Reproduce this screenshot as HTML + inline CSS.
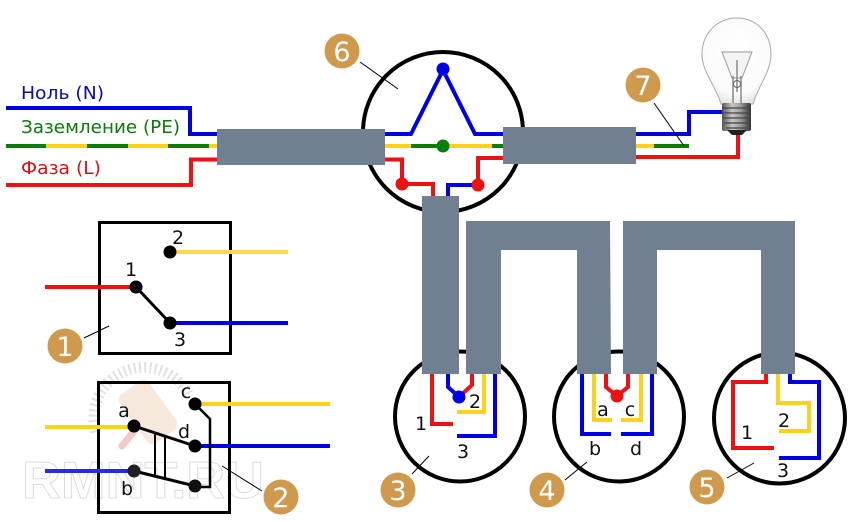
<!DOCTYPE html>
<html><head><meta charset="utf-8"><style>
html,body{margin:0;padding:0;background:#fff;width:850px;height:522px;overflow:hidden}
svg{display:block}
.w{fill:none;stroke-width:4;stroke-linejoin:miter}
.k{font-family:"DejaVu Sans",sans-serif;font-size:19px;fill:#111;text-anchor:middle}
.n{font-family:"DejaVu Sans",sans-serif;font-size:27px;fill:#fff;text-anchor:middle}
.l{font-family:"DejaVu Sans",sans-serif;font-size:17.5px}
</style></head><body>
<svg width="850" height="522" viewBox="0 0 850 522" xmlns="http://www.w3.org/2000/svg">
<defs>
<linearGradient id="b" x1="0" x2="1" y1="0" y2="0"><stop offset="0" stop-color="#555"/><stop offset=".35" stop-color="#c8c8c8"/><stop offset=".65" stop-color="#999"/><stop offset="1" stop-color="#333"/></linearGradient>
<radialGradient id="g" cx=".5" cy=".4" r=".6"><stop offset="0" stop-color="#fff"/><stop offset=".8" stop-color="#fbfbfb"/><stop offset="1" stop-color="#e6e6e6"/></radialGradient>
</defs>

<!-- watermark -->
<path d="M96 432 A50 50 0 0 1 188 394" fill="none" stroke="#e4e0dc" stroke-width="11" stroke-dasharray="2 3.2"/>
<rect x="130" y="382" width="36" height="60" rx="7" fill="#f7e8dc" transform="rotate(-36 148 412)"/>
<path d="M135 430 L122 446" stroke="#f3c9c4" stroke-width="7" stroke-linecap="round"/>
<text x="22" y="498" font-family="Liberation Sans,sans-serif" font-size="52" font-weight="bold" fill="none" stroke="#dcdcdc" stroke-width="1" textLength="242" lengthAdjust="spacingAndGlyphs">RMNT.RU</text>

<!-- top-left feeds -->
<text class="l" x="21" y="99" fill="#0a0ab0" textLength="83" lengthAdjust="spacingAndGlyphs">Ноль (N)</text>
<text class="l" x="21" y="133" fill="#0a7a0a" textLength="159" lengthAdjust="spacingAndGlyphs">Заземление (PE)</text>
<text class="l" x="21" y="174" fill="#d81010" textLength="80" lengthAdjust="spacingAndGlyphs">Фаза (L)</text>
<path class="w" stroke="#0000e6" d="M6 108H190V134H217"/>
<path class="w" stroke="#0a7d0a" d="M6 146H217"/>
<path class="w" stroke="#ffd21a" d="M46 146H87M128 146H168M209 146H217"/>
<path class="w" stroke="#ee1111" d="M6 185H191V159.500H217"/>

<!-- circle 6 -->
<circle cx="443" cy="132" r="80" fill="none" stroke="#000" stroke-width="4"/>
<path class="w" stroke="#0000e6" d="M385 134H411L443 70L475 134H503"/>
<path class="w" stroke="#ffd21a" d="M385 146H411M443 146H492"/>
<path class="w" stroke="#0a7d0a" d="M411 146H443M492 146H503"/>
<path class="w" stroke="#ee1111" d="M385 159.500H402V184H433V197"/>
<path class="w" stroke="#0000e6" d="M448 197V185H478"/>
<path class="w" stroke="#ee1111" d="M478 185V158H503"/>
<circle cx="443" cy="69" r="6.500" fill="#0000e6"/>
<circle cx="443" cy="146" r="6.500" fill="#0a7d0a"/>
<circle cx="402" cy="184" r="6.500" fill="#ee1111"/>
<circle cx="478" cy="185" r="6.500" fill="#ee1111"/>

<!-- right wires -->
<path class="w" stroke="#0000e6" d="M636 134H689V112H728"/>
<path class="w" stroke="#ffd21a" d="M636 146H654"/>
<path class="w" stroke="#0a7d0a" d="M654 146H689"/>
<path class="w" stroke="#ee1111" d="M636 157H738V134"/>

<!-- bulb -->
<path d="M737 18C717 18 702 34 702 54C702 72 715 84 721 104H753C759 84 771 72 771 54C771 34 757 18 737 18Z" fill="url(#g)" stroke="#aaa" stroke-width="1"/>
<path d="M722 52H752L742 78H732Z" fill="#f4f4f4" stroke="#999" stroke-width="1"/>
<path d="M733 76V104M741 76V104M737 60V92" stroke="#888" stroke-width="1.500" fill="none"/>
<circle cx="737" cy="84" r="3.500" fill="none" stroke="#666"/>
<rect x="722" y="103" width="29" height="28" rx="2" fill="url(#b)"/>
<path d="M722 108H751M722 113H751M723 118H750M724 123H749M726 128H747" stroke="#444" stroke-width="1.200"/>
<path d="M727 130H747L742 135H732Z" fill="#222"/>

<!-- circles under cables -->
<g fill="none" stroke="#000" stroke-width="4">
<circle cx="460" cy="416.500" r="65"/>
<circle cx="619" cy="416.500" r="65"/>
<circle cx="779.500" cy="418" r="65.500"/>
</g>

<!-- cables -->
<g fill="#708090">
<rect x="217" y="129" width="168" height="36"/>
<rect x="503" y="127" width="133" height="37"/>
<rect x="422" y="196" width="37" height="178"/>
<path d="M466 221H610L611 374H577L577 250H501V374H466Z"/>
<path d="M623 221H795V374H761V250H657V374H623Z"/>
</g>

<!-- circle 3 -->
<path class="w" stroke="#ee1111" d="M432 374V424H453"/>
<path class="w" stroke="#0000e6" d="M448 374V387L459 397"/>
<path class="w" stroke="#ee1111" d="M472 374V385L459 397"/>
<path class="w" stroke="#ffd21a" d="M484 374V412H457"/>
<path class="w" stroke="#0000e6" d="M495 374V436H457"/>
<circle cx="459" cy="397" r="6.500" fill="#0000e6"/>
<text class="k" x="421" y="430">1</text>
<text class="k" x="475" y="408">2</text>
<text class="k" x="463" y="458">3</text>

<!-- circle 4 -->
<path class="w" stroke="#0000e6" d="M582 374V434H611M621 434H652V374"/>
<path class="w" stroke="#ffd21a" d="M594 374V420H612M621 420H641V374"/>
<path class="w" stroke="#ee1111" d="M606 374V387L617 396L628 387V374"/>
<circle cx="617" cy="396" r="6.500" fill="#ee1111"/>
<text class="k" x="603" y="416">a</text>
<text class="k" x="630" y="416">c</text>
<text class="k" x="595" y="455">b</text>
<text class="k" x="636" y="455">d</text>

<!-- circle 5 -->
<path class="w" stroke="#ee1111" d="M766 374V382H733V448H774"/>
<path class="w" stroke="#ffd21a" d="M778 374V403H809V431H779"/>
<path class="w" stroke="#0000e6" d="M790 374V382H819V458H779"/>
<text class="k" x="747" y="439">1</text>
<text class="k" x="784" y="427">2</text>
<text class="k" x="783" y="477">3</text>

<!-- switch 1 -->
<rect x="99.500" y="222.500" width="131" height="131" fill="none" stroke="#000" stroke-width="3"/>
<path class="w" stroke="#ee1111" d="M45 287H136"/>
<path class="w" stroke="#ffd84a" d="M170 252H288"/>
<path class="w" stroke="#0000e6" d="M170 323H288"/>
<path d="M136 287L170 323" stroke="#000" stroke-width="3"/>
<circle cx="136" cy="287" r="6.500" fill="#000"/>
<circle cx="170" cy="252" r="6.500" fill="#000"/>
<circle cx="170" cy="323" r="6.500" fill="#000"/>
<text class="k" x="131" y="276">1</text>
<text class="k" x="178" y="244">2</text>
<text class="k" x="180" y="346">3</text>

<!-- switch 2 -->
<rect x="98.500" y="382.500" width="131" height="130" fill="none" stroke="#000" stroke-width="3"/>
<path class="w" stroke="#ffd21a" d="M45 427H134M195 404H330"/>
<path class="w" stroke="#0000e6" d="M195 446H330"/>
<path class="w" stroke="#2a2ae0" d="M45 471H134"/>
<path d="M134 426L195 446M134 471L195 486" stroke="#000" stroke-width="3" fill="none"/>
<path d="M195 404L210 419V487H195" stroke="#000" stroke-width="2.500" fill="none"/>
<path d="M155 434V476M165 437V478" stroke="#000" stroke-width="2" fill="none"/>
<circle cx="134" cy="426" r="6.500" fill="#000"/>
<circle cx="195" cy="404" r="6.500" fill="#000"/>
<circle cx="195" cy="446" r="6.500" fill="#000"/>
<circle cx="134" cy="471" r="6.500" fill="#222"/>
<circle cx="195" cy="486" r="6.500" fill="#111"/>
<text class="k" x="124" y="417">a</text>
<text class="k" x="186" y="398">c</text>
<text class="k" x="184" y="438">d</text>
<text class="k" x="127" y="495">b</text>

<!-- leaders -->
<g stroke="#000" stroke-width="1" fill="none">
<path d="M360 62L398 89M654 103L684 146M84 338L109 326M222 466L262 491M412 474L429 456M565 480L587 462M727 478L754 463"/>
</g>

<!-- badges -->
<g fill="#d09a4e">
<circle cx="342" cy="51" r="17.500"/><circle cx="643" cy="85" r="17.500"/><circle cx="65" cy="346" r="17.500"/><circle cx="281" cy="497" r="17.500"/><circle cx="398" cy="490" r="17.500"/><circle cx="547" cy="490" r="17.500"/><circle cx="707" cy="487" r="17.500"/>
</g>
<text class="n" x="342" y="61">6</text>
<text class="n" x="643" y="95">7</text>
<text class="n" x="65" y="356">1</text>
<text class="n" x="281" y="507">2</text>
<text class="n" x="398" y="500">3</text>
<text class="n" x="547" y="500">4</text>
<text class="n" x="707" y="497">5</text>
</svg>
</body></html>
